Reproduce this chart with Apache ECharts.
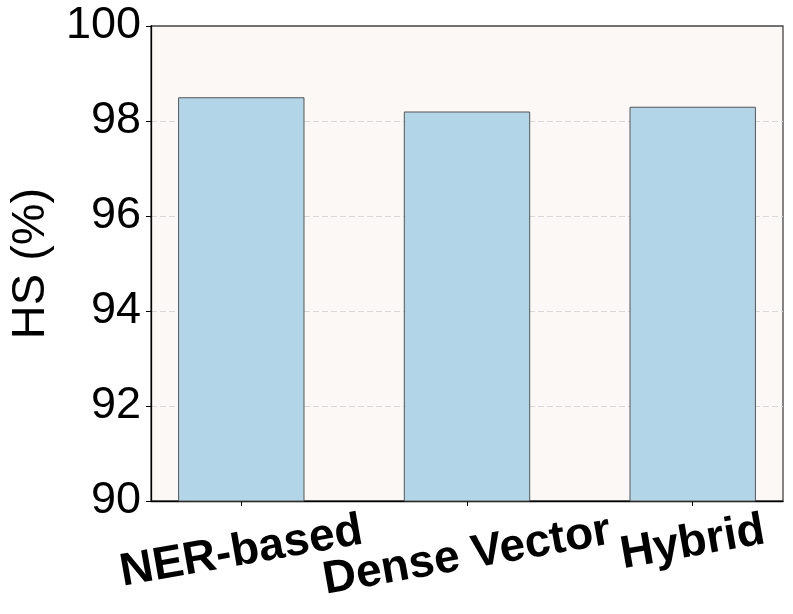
<!DOCTYPE html>
<html>
<head>
<meta charset="utf-8">
<script src="https://cdn.jsdelivr.net/npm/echarts@6/dist/echarts.min.js"></script>
<style>
html,body{margin:0;padding:0;background:#ffffff;}
#chart{width:793px;height:614px;}
</style>
</head>
<body>
<div id="chart"></div>
<script>
const categories = ['NER-based', 'Dense Vector', 'Hybrid'];
const hsValues = [98.5, 98.2, 98.3];
const yTicks = [90, 92, 94, 96, 98, 100];
const labelMargins = [51, 55, 42];

const chart = echarts.init(document.getElementById('chart'), null, {renderer: 'canvas'});
const positions = categories.map((c, i) => i);
const font = '"Liberation Sans", Arial, sans-serif';

const xAxes = categories.map((name, i) => ({
  type: 'value',
  gridIndex: 0,
  position: 'bottom',
  min: -0.4,
  max: 2.4,
  splitLine: {show: false},
  axisLine: {show: i === 0, onZero: false, lineStyle: {color: '#000000', width: 1.3}},
  axisTick: {show: true, length: 5, customValues: [positions[i]], lineStyle: {color: '#000000'}},
  axisLabel: {
    customValues: [positions[i]],
    formatter: () => name,
    fontFamily: font,
    fontWeight: 'bold',
    fontSize: 46,
    color: '#000000',
    rotate: 10,
    align: 'center',
    verticalAlign: 'middle',
    margin: labelMargins[i],
    hideOverlap: false,
    showMinLabel: true,
    showMaxLabel: true
  }
}));

chart.setOption({
  animation: false,
  backgroundColor: '#ffffff',
  grid: {
    left: 148, right: 10, top: 26, bottom: 113,
    show: true,
    backgroundColor: '#fcf8f5',
    borderColor: '#444444',
    borderWidth: 1.3
  },
  xAxis: xAxes,
  yAxis: {
    type: 'value',
    min: yTicks[0],
    max: yTicks[yTicks.length - 1],
    interval: 2,
    name: 'HS (%)',
    nameLocation: 'middle',
    nameGap: 96,
    nameTextStyle: {fontFamily: font, fontSize: 47, color: '#000000'},
    axisLine: {show: true, onZero: false, lineStyle: {color: '#000000', width: 1.3}},
    axisTick: {show: true, length: 5, lineStyle: {color: '#000000'}},
    axisLabel: {fontFamily: font, fontSize: 45, color: '#000000', margin: 10},
    splitLine: {
      show: true,
      showMinLine: false,
      showMaxLine: false,
      lineStyle: {color: '#d8d8d8', type: [6, 3], width: 1}
    }
  },
  series: [{
    type: 'bar',
    xAxisIndex: 0,
    data: positions.map((p, i) => [p, hsValues[i]]),
    barWidth: '56%',
    itemStyle: {color: '#b3d5e8', borderColor: '#555555', borderWidth: 1}
  }]
});
</script>
</body>
</html>
